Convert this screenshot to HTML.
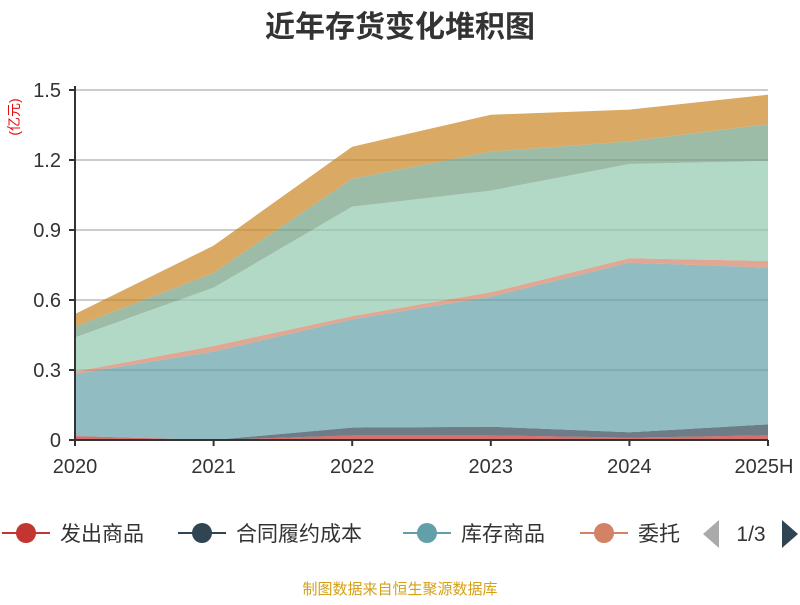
<!DOCTYPE html>
<html><head><meta charset="utf-8"><style>
body{margin:0;background:#fff;font-family:"Liberation Sans","Noto Sans CJK SC",sans-serif}
</style></head><body>
<svg width="800" height="600" xmlns="http://www.w3.org/2000/svg" font-family="Liberation Sans, Noto Sans CJK SC, sans-serif">
<text x="400" y="37" text-anchor="middle" font-size="30" font-weight="bold" fill="#333">近年存货变化堆积图</text>
<text transform="translate(19,117) rotate(-90)" text-anchor="middle" font-size="14" fill="#e01010">(亿元)</text>
<g id="grid"></g><g id="areas"></g><g id="axes"></g>
<g id="legend"></g>
<text x="400" y="594" text-anchor="middle" font-size="15" fill="#d4a017">制图数据来自恒生聚源数据库</text>
</svg>
<script>
const categories=["2020","2021","2022","2023","2024","2025H"];
const seriesNames=["发出商品","合同履约成本","库存商品","委托加工物资","原材料","在产品","周转材料"];
const s1=[0.017,0,0.02,0.02,0.01,0.02];
const s2=[0,0,0.033,0.037,0.023,0.047];
const s3=[0.266,0.379,0.464,0.557,0.727,0.672];
const s4=[0.01,0.024,0.014,0.019,0.019,0.028];
const s5=[0.147,0.25,0.469,0.436,0.404,0.429];
const s6=[0.046,0.064,0.12,0.167,0.097,0.158];
const s7=[0.054,0.116,0.137,0.158,0.136,0.126];
const yTicks=[0,0.3,0.6,0.9,1.2,1.5];
const yTickLabels=["0","0.3","0.6","0.9","1.2","1.5"];
const colors=["#c23531","#2f4554","#61a0a8","#d48265","#91c7ae","#749f83","#ca8622"];
const NS="http://www.w3.org/2000/svg";
const x0=75,x1=768,y0=440,y1=90,yMax=1.5;
const xs=i=>x0+i*(x1-x0)/(categories.length-1);
const ys=v=>y0-v/yMax*(y0-y1);
function mk(tag,attrs,parent){const e=document.createElementNS(NS,tag);for(const k in attrs)e.setAttribute(k,attrs[k]);parent.appendChild(e);return e;}
const grid=document.getElementById('grid'),areas=document.getElementById('areas'),axes=document.getElementById('axes'),legend=document.getElementById('legend');
yTicks.forEach((t,i)=>{
 if(t>0){const l=mk('line',{x1:x0,x2:x1,y1:ys(t),y2:ys(t),stroke:'#ccc','stroke-width':2},grid);
 
 }
 const tk=mk('line',{x1:x0-6,x2:x0,y1:ys(t),y2:ys(t),stroke:'#333','stroke-width':2},axes);
 
 
 const tx=mk('text',{x:x0-14,y:ys(t)+7,'text-anchor':'end','font-size':20,fill:'#333'},axes);
 tx.textContent=yTickLabels[i];
 
 
});
const series=[s1,s2,s3,s4,s5,s6,s7];
let base=categories.map(()=>0);
series.forEach((s,k)=>{
 const top=base.map((b,i)=>b+s[i]);
 let d='M'+top.map((v,i)=>xs(i)+','+ys(v)).join('L');
 for(let i=categories.length-1;i>=0;i--)d+='L'+xs(i)+','+ys(base[i]);
 const p=mk('path',{d:d+'Z',fill:colors[k],'fill-opacity':0.7},areas);
 
 
 base=top;
});
mk('line',{x1:x0,x2:x0,y1:y1-4,y2:y0,stroke:'#333','stroke-width':2},axes);
mk('line',{x1:x0,x2:x1,y1:y0,y2:y0,stroke:'#333','stroke-width':2},axes);
categories.forEach((c,i)=>{
 const tk=mk('line',{x1:xs(i),x2:xs(i),y1:y0,y2:y0+6,stroke:'#333','stroke-width':2},axes);
 
 
 const tx=mk('text',{x:i===categories.length-1?xs(i)-4:xs(i),y:y0+33,'text-anchor':'middle','font-size':20,fill:'#333'},axes);
 tx.textContent=c;
 
 
});
const lx=[2,178,403,580];
lx.forEach((x,k)=>{
 const g=mk('g',{},legend);
 
 
 mk('line',{x1:x,x2:x+48,y1:533,y2:533,stroke:colors[k],'stroke-width':2},g);
 mk('circle',{cx:x+24,cy:533,r:10,fill:colors[k]},g);
 const t=mk('text',{x:x+58,y:541,'font-size':21,fill:'#333'},g);
 t.textContent=k===3?'委托':seriesNames[k];
});
const pl=mk('path',{d:'M703,534L719,520L719,548Z',fill:'#aaa'},legend);


const pt=mk('text',{x:751,y:541,'text-anchor':'middle','font-size':21,fill:'#333'},legend);
pt.textContent='1/3';


const pn=mk('path',{d:'M798,534L782,520L782,548Z',fill:'#2f4554'},legend);


</script>
</body></html>
